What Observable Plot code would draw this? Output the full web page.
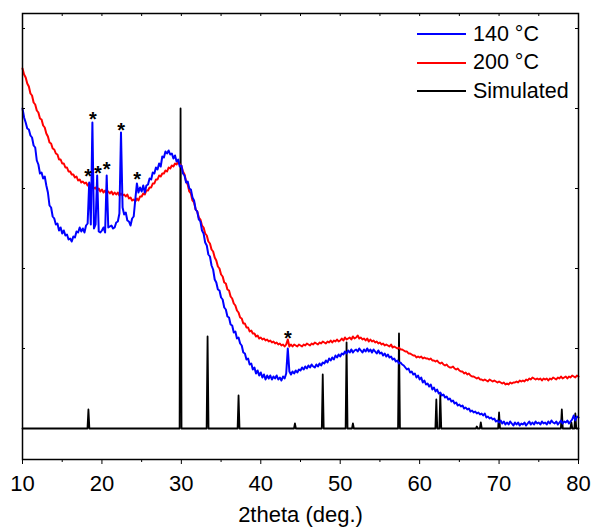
<!DOCTYPE html>
<html><head><meta charset="utf-8">
<script src="https://cdn.jsdelivr.net/npm/d3@7"></script>
<script src="https://cdn.jsdelivr.net/npm/@observablehq/plot@0.6"></script>
<style>
body{margin:0;background:#fff;font-family:"Liberation Sans",Arial,sans-serif;}
#wrap{position:relative;width:592px;height:527px;}
#legend{position:absolute;left:417px;top:20px;font-size:21.5px;color:#000;}
.row{display:flex;align-items:center;height:28.5px;white-space:nowrap;}
.sw{width:49px;height:0;border-top:2px solid;margin-right:7px;}
</style></head><body><div id="wrap"></div>
<script>
// 2theta grid of the measured patterns
const start = 10, step = 0.2;
// 140 °C pattern (a.u.), one row per degree: .0 .2 .4 .6 .8
const blue140 = [
320,311,306,300,299, 293,291,283,281,268, 264,255,256,250,252, 243,236,223,221,212,
210,204,205,198,201, 195,198,193,194,189, 190,187,192,191,197, 196,201,197,200,196,
203,205,246,204,306, 200,204,253,197,196, 198,201,196,253,201, 202,203,200,201,206,
207,215,296,221,214, 216,208,207,203,210, 212,229,245,236,241, 237,243,236,243,244,
250,249,256,255,261, 259,265,262,272,271, 277,275,278,274,275, 270,273,267,269,262,
263,255,253,246,247, 240,239,231,228,219, 217,209,207,198,195, 186,183,174,172,163,
159,149,146,139,138, 131,129,121,119,112, 111,104,103,96,97, 90,91,85,83,76,
75,69,70,64,65, 59,61,55,58,53, 56,51,54,49,53, 50,53,49,52,50,
53,49,51,48,52, 50,55,80,57,54, 57,55,58,56,59, 58,61,59,62,60,
63,61,64,62,61, 64,62,65,63,66, 65,68,66,70,68, 71,69,73,71,74,
72,75,74,77,75, 78,76,79,76,78, 79,77,80,78,76, 79,77,80,77,79,
76,79,77,75,78, 75,76,73,75,72, 74,71,72,69,70, 67,68,65,66,64,
63,61,59,60,56, 57,54,55,51,53, 49,51,46,48,44, 45,42,44,39,41,
37,39,35,36,33, 34,31,32,29,30, 27,28,25,26,23, 24,22,23,20,21,
19,20,17,18,16, 17,15,16,14,15, 13,15,11,12,10, 11,9,10,7,8,
6,8,5,7,4, 6,4,7,5,3, 6,4,6,3,5, 4,6,3,5,7,
4,6,4,7,5, 6,4,7,5,6, 4,7,5,8,6, 5,7,4,6,8,
5,7,6,8,5, 7,9,13,8,12, 11
];
// 200 °C pattern (a.u.)
const red200 = [
360,354,351,345,342, 335,333,326,324,318, 316,310,309,303,301, 295,292,286,285,280,
279,275,274,269,269, 265,265,261,261,257, 257,254,254,251,252, 248,249,246,247,245,
246,243,245,242,243, 240,241,238,240,237, 239,236,238,235,237, 235,237,234,236,234,
236,233,235,233,234, 232,234,230,231,228, 229,227,230,228,232, 232,235,234,238,238,
241,241,245,245,249, 249,253,252,255,255, 258,257,261,260,263, 262,265,264,267,264,
263,257,254,247,244, 237,235,228,226,219, 217,211,209,203,201, 195,193,187,185,179,
177,171,168,162,160, 154,152,146,145,139, 138,132,130,125,123, 118,116,111,110,105,
105,101,101,97,98, 95,95,92,93,90, 91,89,90,88,89, 87,88,86,87,85,
86,84,85,83,84, 82,84,89,82,84, 82,84,83,82,84, 83,82,84,83,85,
84,83,85,84,86, 85,84,86,85,87, 86,85,87,86,88, 86,88,87,89,87,
88,90,88,91,89, 90,91,89,92,90, 91,93,90,91,89, 90,88,90,87,89,
87,88,86,87,85, 86,84,85,83,84, 83,82,84,81,82, 81,80,81,79,79,
78,77,77,75,75, 74,73,73,71,72, 71,72,70,71,70, 70,69,70,68,68,
67,68,66,65,66, 64,63,64,62,61, 61,62,60,59,60, 58,57,57,55,56,
54,55,53,52,52, 51,50,51,49,49, 48,49,48,47,49, 48,47,48,47,46,
47,46,45,46,44, 45,44,46,45,46, 46,47,46,48,47, 48,47,49,48,50,
49,51,50,49,50, 49,50,48,50,49, 50,48,50,49,51, 50,49,51,50,52,
50,51,52,50,52, 51,53,52,51,53, 52
];
// simulated reflections
const simPeakPos = [18.3, 29.9, 33.3, 37.2, 44.3, 47.8, 50.8, 51.6, 57.4, 62.1, 62.6, 67.2, 67.7, 70.0, 77.9, 79.1, 79.6];
const simPeakHeight = [19, 320, 92, 33, 5, 54, 86, 5, 95, 29, 34, 2, 6, 16, 19, 6, 15];
// asterisk-marked impurity reflections
const starPos = [18.27, 18.85, 19.48, 20.6, 22.42, 24.44, 43.4];
const starHeight = [258, 315, 261, 265, 304, 255, 96];
const xMajor = [10, 20, 30, 40, 50, 60, 70, 80];
const xMinor = [15, 25, 35, 45, 55, 65, 75];
const xTop = [10, 15, 20, 25, 30, 35, 40, 45, 50, 55, 60, 65, 70, 75, 80];
const yTicks = [0, 80, 160, 240, 320, 400];
const seriesNames = ["140 °C", "200 °C", "Simulated"];
const seriesColors = ["#0000ff", "#ff0000", "#000000"];

const toPts = arr => arr.map((v, i) => ({x: +(start + i * step).toFixed(2), y: v}));
const bluePts = toPts(blue140);
const redPts = toPts(red200);
const simPts = [{x: 10, y: 0}];
simPeakPos.forEach((p, i) => simPts.push({x: p - 0.12, y: 0}, {x: p, y: simPeakHeight[i]}, {x: p + 0.12, y: 0}));
simPts.push({x: 80, y: 0});
const stars = starPos.map((p, i) => ({x: p, y: starHeight[i]}));

const W = 592, H = 527, mL = 22, mR = 14, mT = 13, mB = 68;
const pw = W - mL - mR, ph = H - mT - mB;

const chart = Plot.plot({
  width: W, height: H,
  marginLeft: mL, marginRight: mR, marginTop: mT, marginBottom: mB,
  style: {fontFamily: "'Liberation Sans', Arial, sans-serif", fontSize: "22px", background: "white", color: "black"},
  x: {domain: [10, 80]},
  y: {domain: [-31, 415], axis: null},
  marks: [
    Plot.line(simPts, {x: "x", y: "y", stroke: seriesColors[2], strokeWidth: 1.8}),
    Plot.line(redPts, {x: "x", y: "y", stroke: seriesColors[1], strokeWidth: 2}),
    Plot.line(bluePts, {x: "x", y: "y", stroke: seriesColors[0], strokeWidth: 2}),
    Plot.text(stars, {x: "x", y: "y", text: () => "*", fontSize: 20, fontWeight: "bold", dy: 6, fill: "black"}),
    Plot.axisX({ticks: xMajor, tickSize: 5, tickPadding: 11, fontSize: 22, tickFormat: d => String(d),
      label: "2theta (deg.)", labelAnchor: "center", labelArrow: "none", labelOffset: 62}),
    Plot.axisX({ticks: xMinor, tickSize: 3, tickFormat: () => "", label: null}),
    Plot.tickX(xTop, {x: d => d, insetBottom: ph - 3, stroke: "black"}),
    Plot.tickY(yTicks, {y: d => d, insetRight: pw - 3, stroke: "black"}),
    Plot.tickY(yTicks, {y: d => d, insetLeft: pw - 3, stroke: "black"}),
    Plot.frame({stroke: "black", strokeWidth: 1.5})
  ]
});
const wrap = document.getElementById("wrap");
wrap.appendChild(chart);
const legend = document.createElement("div");
legend.id = "legend";
seriesNames.forEach((n, i) => {
  const row = document.createElement("div");
  row.className = "row";
  const sw = document.createElement("div");
  sw.className = "sw";
  sw.style.borderTopColor = seriesColors[i];
  const t = document.createElement("span");
  t.textContent = n;
  row.appendChild(sw); row.appendChild(t);
  legend.appendChild(row);
});
wrap.appendChild(legend);
</script></body></html>
